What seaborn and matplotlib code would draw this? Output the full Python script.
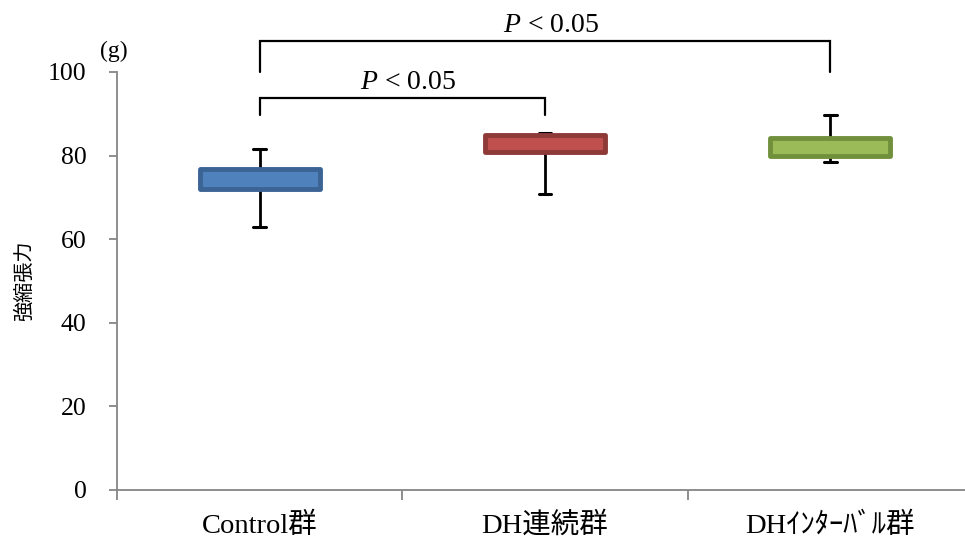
import numpy as np
import pandas as pd
import matplotlib
matplotlib.use("Agg")
import matplotlib.pyplot as plt
import seaborn as sns

# Five-number summaries (g)
groups = ["Control群", "DH連続群", "DHｲﾝﾀｰﾊﾞﾙ群"]
mins = [63.0, 70.9, 78.5]
q1s = [71.9, 80.9, 80.0]
medians = [74.8, 82.9, 82.5]
q3s = [76.9, 84.9, 84.3]
maxs = [81.6, 85.4, 89.7]
y_ticks = [0, 20, 40, 60, 80, 100]
sig_pairs = [(0, 1), (0, 2)]
sig_labels = ["$P$ < 0.05", "$P$ < 0.05"]

box_colors = ["#4F81BD", "#C0504D", "#9BBB59"]
edge_colors = ["#3B6394", "#8E3A38", "#71903C"]
axis_gray = "#868686"

# long table: the 5 summary values per group reproduce the quartiles exactly
rows = []
for g, a, b, c, d, e in zip(groups, mins, q1s, medians, q3s, maxs):
    for v in (a, b, c, d, e):
        rows.append({"group": g, "value": v})
df = pd.DataFrame(rows)

sns.set_theme(style="white")
serif = ["Liberation Serif", "Noto Sans CJK JP"]
plt.rcParams["font.family"] = serif
plt.rcParams["text.color"] = "black"
plt.rcParams["axes.labelcolor"] = "black"
plt.rcParams["xtick.labelcolor"] = "black"
plt.rcParams["ytick.labelcolor"] = "black"
plt.rcParams["mathtext.fontset"] = "custom"
plt.rcParams["mathtext.rm"] = "Liberation Serif"
plt.rcParams["mathtext.it"] = "Liberation Serif:italic"

fig = plt.figure(figsize=(9.65, 5.43), dpi=100)
ax = fig.add_axes([117 / 965, 53 / 543, (973 - 117) / 965, (490 - 72) / 543])

sns.boxplot(data=df, x="group", y="value", hue="group", order=groups,
            palette=box_colors, saturation=1, width=0.42, whis=(0, 100),
            legend=False,
            boxprops={"linewidth": 3.5, "joinstyle": "round"},
            medianprops={"color": "#ffffff", "linewidth": 1.0, "alpha": 0.3},
            whiskerprops={"color": "black", "linewidth": 2},
            capprops={"color": "black", "linewidth": 2.2, "gid": "cap"},
            ax=ax)

for patch, ec in zip(ax.patches, edge_colors):
    patch.set_edgecolor(ec)
    patch.set_zorder(3)

# narrow caps like the original
for ln in ax.lines:
    if ln.get_gid() == "cap":
        xd = np.asarray(ln.get_xdata(), dtype=float)
        xc = xd.mean()
        ln.set_xdata([xc - 0.022, xc + 0.022])

ax.set_xlim(-0.5, 2.5)
ax.set_ylim(0, 100)
ax.set_yticks(y_ticks)
ax.set_xticks(range(len(groups)))
ax.set_xticklabels(groups)
ax.set_xticks([-0.5, 0.5, 1.5, 2.5], minor=True)
ax.set_xlabel("")
ax.set_ylabel("強縮張力", family="Noto Sans CJK JP", fontsize=14.5, labelpad=9)

for side in ("top", "right"):
    ax.spines[side].set_visible(False)
for side in ("left", "bottom"):
    ax.spines[side].set_color(axis_gray)
    ax.spines[side].set_linewidth(1.3)

ax.tick_params(axis="y", direction="out", length=6, width=1.3, color=axis_gray,
               labelsize=18.5, pad=16, left=True)
ax.tick_params(axis="x", which="major", length=0, labelsize=20.5, pad=16)
ax.tick_params(axis="x", which="minor", direction="out", length=7, width=1.3,
               color=axis_gray, bottom=True)

ax.text(-0.51, 102.5, "(g)", fontsize=17, ha="center", va="bottom")

# significance brackets
bar_y = [93.7, 107.4]
drops = [4.1, 7.5]
for (i, j), lab, y, d in zip(sig_pairs, sig_labels, bar_y, drops):
    ax.plot([i, i, j, j], [y - d, y, y, y - d], color="black", lw=1.6,
            clip_on=False, solid_joinstyle="miter")
    ax.text((i + j) / 2 + 0.02, y + 0.8, lab, ha="center", va="bottom",
            fontsize=20, clip_on=False)

fig.savefig("out.png", dpi=100)
